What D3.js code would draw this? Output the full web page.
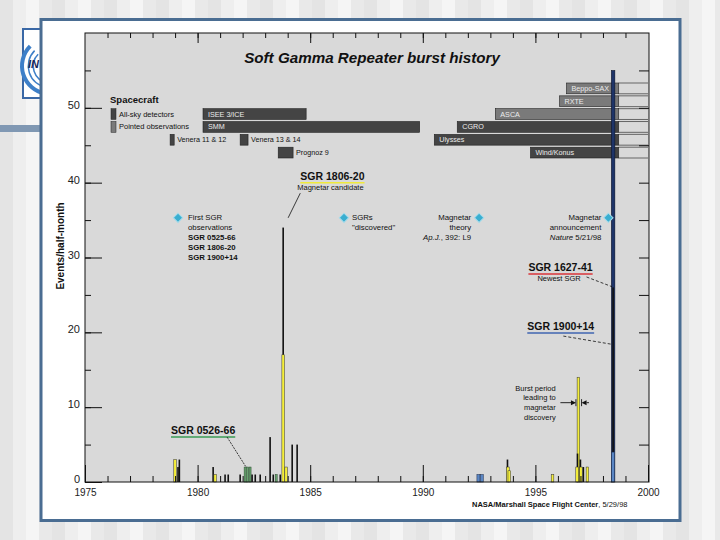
<!DOCTYPE html>
<html>
<head>
<meta charset="utf-8">
<script src="https://cdn.jsdelivr.net/npm/d3@7"></script>
<style>
  html, body { margin: 0; padding: 0; background: #fff; }
  svg { display: block; }
  text { font-family: "Liberation Sans", Arial, sans-serif; }
</style>
</head>
<body>
<svg id="chart" width="720" height="540"></svg>
<script>
// ---- data ----
const xTickYears = [1975, 1980, 1985, 1990, 1995, 2000];
const yTickValues = [0, 10, 20, 30, 40, 50];

// spacecraft coverage (years), row in the spacecraft block, detector type
const craftNames  = ['ISEE 3/ICE', 'SMM', 'Venera 11 & 12', 'Venera 13 & 14', 'Prognoz 9', 'Ulysses', 'CGRO', 'ASCA', 'Wind/Konus', 'RXTE', 'Beppo-SAX'];
const craftStart  = [1980.24, 1980.24, 1978.78, 1981.89, 1983.58, 1990.51, 1991.53, 1993.22, 1994.78, 1996.07, 1996.38];
const craftEnd    = [1984.82, 1989.86, 1978.96, 1982.24, 1984.24, 1998.7, 1998.7, 1998.7, 1998.7, 1998.7, 1998.7];
const craftRow    = [2, 3, 4, 4, 5, 4, 3, 2, 5, 1, 0];
const craftType   = ['all-sky', 'all-sky', 'all-sky', 'all-sky', 'all-sky', 'all-sky', 'all-sky', 'pointed', 'all-sky', 'pointed', 'pointed'];
const craftOngoing = [false, false, false, false, false, true, true, true, true, true, true];

// bursts per half-month
const burstYear  = [1979.0, 1979.13, 1979.19, 1980.69, 1980.78, 1981.22, 1981.36, 1981.89,
                    1982.11, 1982.22, 1982.33, 1982.42, 1982.56, 1982.78, 1983.22, 1983.36,
                    1983.49, 1983.67, 1983.8, 1983.8, 1983.93, 1984.2, 1984.42,
                    1992.47, 1992.62, 1993.76, 1993.78, 1993.84, 1995.76,
                    1996.85, 1996.87, 1996.91, 1997.0, 1997.02, 1997.13, 1997.31,
                    1998.45, 1998.45, 1998.45];
const burstCount = [3, 2, 3, 2, 1, 1, 1, 1,
                    2, 2, 2, 1, 1, 1, 6, 1,
                    1, 1, 34, 17, 2, 5, 5,
                    1, 1, 3, 2, 1.5, 1,
                    2, 3.8, 14, 3, 2, 2, 2,
                    55, 26, 4];
const burstSource = ['SGR 1806-20', 'other', 'other', 'other', 'SGR 1806-20', 'other', 'other', 'other',
                     'SGR 0526-66', 'SGR 0526-66', 'SGR 0526-66', 'other', 'other', 'other', 'other', 'other',
                     'SGR 0526-66', 'other', 'other', 'SGR 1806-20', 'SGR 1806-20', 'other', 'other',
                     'SGR 1900+14', 'SGR 1900+14', 'other', 'SGR 1806-20', 'SGR 1806-20', 'SGR 1806-20',
                     'SGR 1806-20', 'other', 'SGR 1806-20', 'other', 'SGR 1806-20', 'other', 'SGR 1806-20',
                     'SGR 1627-41', 'other', 'SGR 1900+14'];

// milestones
const eventYear  = [1979.13, 1986.5, 1992.5, 1998.24];
const eventLevel = [35.3, 35.3, 35.3, 35.3];

// ---- layout ----
const W = 720, H = 540;
const plot = {left: 85, right: 648, top: 33, bottom: 482};
const font = '"Liberation Sans", Arial, sans-serif';

const sourceStyle = {
  'other':       {fill: '#111111', w: 1.6, stroke: 'none'},
  'SGR 0526-66': {fill: '#67a36f', w: 2,   stroke: '#2a4a2e'},
  'SGR 1806-20': {fill: '#f4ee3b', w: 2.6, stroke: '#333'},
  'SGR 1900+14': {fill: '#5a86c4', w: 3,   stroke: '#1a2a4a'},
  'SGR 1627-41': {fill: '#1e3468', w: 3.6, stroke: '#0a0f1f'}
};

const svg = d3.select('#chart');

// slide background stripes
const stripes = d3.range(0, W, 13);
svg.append('g').selectAll('rect').data(stripes).enter().append('rect')
  .attr('x', d => d).attr('y', 0).attr('width', 13).attr('height', H)
  .attr('fill', (d, i) => ['#e4e4e4', '#eeeeee', '#f5f5f5', '#e9e9e9'][i % 4]);

svg.append('rect').attr('x', 0).attr('y', 125).attr('width', 44).attr('height', 7).attr('fill', '#8098b3');

// logo (mostly hidden behind panel)
const logo = svg.append('g');
logo.append('rect').attr('x', 23).attr('y', 29).attr('width', 30).attr('height', 69)
  .attr('fill', '#fff').attr('stroke', '#3a68a6').attr('stroke-width', 2);
[16, 21, 26].forEach((r, i) => {
  logo.append('path')
    .attr('d', d3.arc()({innerRadius: r, outerRadius: r + (i === 2 ? 4 : 1.5), startAngle: -Math.PI * 0.95, endAngle: -Math.PI * 0.25}))
    .attr('transform', 'translate(50,66)')
    .attr('fill', '#3d7fc8');
});
logo.append('text').attr('x', 28).attr('y', 68).attr('font-size', 11).attr('font-weight', 'bold')
  .attr('font-style', 'italic').attr('fill', '#18285a').text('IN');

// white panel
svg.append('rect').attr('x', 41).attr('y', 19.5).attr('width', 639).attr('height', 501)
  .attr('fill', '#fff').attr('stroke', '#4a6d92').attr('stroke-width', 3);

// ---- chart ----
const x = d3.scaleLinear().domain([1975, 2000]).range([plot.left, plot.right]);
const y = d3.scaleLinear().domain([0, 60]).range([plot.bottom, plot.top]);
const row = d3.scaleBand().domain(d3.range(6)).range([83, 158]).paddingInner(0.16);

const g = svg.append('g');
g.append('rect').attr('x', plot.left).attr('y', plot.top)
  .attr('width', plot.right - plot.left + 1).attr('height', plot.bottom - plot.top)
  .attr('fill', '#d9d9d9');

// title
g.append('text').attr('x', 372).attr('y', 63).attr('text-anchor', 'middle')
  .attr('font-size', 15.2).attr('font-weight', 'bold').attr('font-style', 'italic')
  .attr('fill', '#111').text('Soft Gamma Repeater burst history');

// spacecraft block
g.append('text').attr('x', 110).attr('y', 103).attr('font-size', 9.5).attr('font-weight', 'bold')
  .attr('fill', '#111').text('Spacecraft');
const typeFill = {'all-sky': '#444444', 'pointed': '#7a7a7a'};
[['all-sky', 'All-sky detectors', 2], ['pointed', 'Pointed observations', 3]].forEach(d => {
  g.append('rect').attr('x', 111).attr('y', row(d[2])).attr('width', 5).attr('height', row.bandwidth())
    .attr('fill', typeFill[d[0]]).attr('stroke', '#222').attr('stroke-width', 0.5);
  g.append('text').attr('x', 119).attr('y', row(d[2]) + row.bandwidth() / 2 + 2.5)
    .attr('font-size', 7.5).attr('fill', '#111').text(d[1]);
});

const crafts = craftNames.map((n, i) => ({name: n, start: craftStart[i], end: craftEnd[i], row: craftRow[i], type: craftType[i], ongoing: craftOngoing[i]}));
const cg = g.append('g');
crafts.filter(d => d.ongoing).forEach(d => {
  [row(d.row), row(d.row) + row.bandwidth()].forEach(yy => {
    cg.append('line').attr('x1', x(d.end)).attr('x2', plot.right).attr('y1', yy).attr('y2', yy)
      .attr('stroke', '#333').attr('stroke-width', 0.7);
  });
});
cg.selectAll('rect.craft').data(crafts).enter().append('rect')
  .attr('x', d => x(d.start)).attr('y', d => row(d.row))
  .attr('width', d => x(d.end) - x(d.start)).attr('height', row.bandwidth())
  .attr('fill', d => typeFill[d.type]).attr('stroke', '#222').attr('stroke-width', 0.6);
cg.selectAll('text.craft').data(crafts).enter().append('text')
  .attr('x', d => (x(d.end) - x(d.start) > 20) ? x(d.start) + 5 : x(d.end) + 3)
  .attr('y', d => row(d.row) + row.bandwidth() / 2 + 2.5)
  .attr('font-size', 7.2)
  .attr('fill', d => (x(d.end) - x(d.start) > 20) ? '#ececec' : '#111')
  .text(d => d.name);

// bursts
const bursts = burstYear.map((yr, i) => ({year: yr, count: burstCount[i], src: burstSource[i]}))
  .sort((a, b) => b.count - a.count);
g.append('g').selectAll('rect').data(bursts).enter().append('rect')
  .attr('x', d => x(d.year) - sourceStyle[d.src].w / 2)
  .attr('y', d => y(d.count))
  .attr('width', d => sourceStyle[d.src].w)
  .attr('height', d => y(0) - y(d.count))
  .attr('fill', d => sourceStyle[d.src].fill)
  .attr('stroke', d => sourceStyle[d.src].stroke)
  .attr('stroke-width', 0.5);

// axes
function clean(sel) { sel.select('.domain').remove(); sel.selectAll('line').attr('stroke', '#111'); }
const allYears = d3.range(1976, 2000);
const fiveStep = d3.range(5, 60, 5);

g.append('g').attr('transform', `translate(0,${plot.bottom})`)
  .call(d3.axisBottom(x).tickValues(allYears).tickSize(-6).tickFormat('')).call(clean);
g.append('g').attr('transform', `translate(0,${plot.bottom})`)
  .call(d3.axisBottom(x).tickValues(xTickYears).tickSize(-17).tickPadding(7).tickFormat(d3.format('d')))
  .call(clean)
  .call(s => s.selectAll('text').attr('font-size', 10).attr('font-family', font).attr('fill', '#222'));
g.append('g').attr('transform', `translate(0,${plot.top})`)
  .call(d3.axisTop(x).tickValues(allYears).tickSize(-5).tickFormat('')).call(clean);
g.append('g').attr('transform', `translate(0,${plot.top})`)
  .call(d3.axisTop(x).tickValues(xTickYears.slice(1, -1)).tickSize(-10).tickFormat('')).call(clean);

g.append('g').attr('transform', `translate(${plot.left},0)`)
  .call(d3.axisLeft(y).tickValues(fiveStep).tickSize(-6).tickFormat('')).call(clean);
g.append('g').attr('transform', `translate(${plot.left},0)`)
  .call(d3.axisLeft(y).tickValues(yTickValues).tickSize(-17).tickPadding(5).tickFormat(d3.format('d')))
  .call(clean)
  .call(s => s.selectAll('text').attr('font-size', 11).attr('font-family', font).attr('fill', '#222').attr('y', -3));
g.append('g').attr('transform', `translate(${plot.right + 1},0)`)
  .call(d3.axisRight(y).tickValues(fiveStep).tickSize(-10).tickFormat('')).call(clean);

g.append('rect').attr('x', plot.left).attr('y', plot.top)
  .attr('width', plot.right - plot.left + 1).attr('height', plot.bottom - plot.top)
  .attr('fill', 'none').attr('stroke', '#111').attr('stroke-width', 1);

g.append('text').attr('transform', `translate(64,${246}) rotate(-90)`).attr('text-anchor', 'middle')
  .attr('font-size', 10).attr('font-weight', 'bold').attr('fill', '#111').text('Events/half-month');

// milestone markers
g.append('g').selectAll('path').data(eventYear).enter().append('path')
  .attr('d', d3.symbol().type(d3.symbolSquare).size(44))
  .attr('transform', (d, i) => `translate(${x(d)},${y(eventLevel[i])}) rotate(45)`)
  .attr('fill', '#3aaed0').attr('stroke', '#a8dceb').attr('stroke-width', 1);

const eventText = [
  {anchor: 'start', dx: 10, lines: [[['First SGR', 'n']], [['observations', 'n']], [['SGR 0525-66', 'b']], [['SGR 1806-20', 'b']], [['SGR 1900+14', 'b']]]},
  {anchor: 'start', dx: 8, lines: [[['SGRs', 'n']], [['"discovered"', 'n']]]},
  {anchor: 'end', dx: -8, lines: [[['Magnetar', 'n']], [['theory', 'n']], [['Ap.J.', 'i'], [', 392: L9', 'n']]]},
  {anchor: 'end', dx: -7, lines: [[['Magnetar', 'n']], [['announcement', 'n']], [['Nature', 'i'], [' 5/21/98', 'n']]]}
];
eventText.forEach((e, i) => {
  e.lines.forEach((ln, j) => {
    const t = g.append('text').attr('x', x(eventYear[i]) + e.dx).attr('y', y(eventLevel[i]) + 2 + j * 10)
      .attr('text-anchor', e.anchor).attr('font-size', 7.8).attr('fill', '#111');
    ln.forEach(p => t.append('tspan').text(p[0])
      .attr('font-weight', p[1] === 'b' ? 'bold' : 'normal')
      .attr('font-style', p[1] === 'i' ? 'italic' : 'normal'));
  });
});

// source labels
const srcLabels = [
  {name: 'SGR 1806-20', sub: 'Magnetar candidate', at: [1984.56, 40.4], color: '#f0ea3a', line: [[1984.56, 38.6], [1984.02, 35.3]], dash: null, subDx: -3},
  {name: 'SGR 1627-41', sub: 'Newest SGR', at: [1994.69, 28.2], color: '#d9343a', line: [[1997.27, 27.4], [1998.4, 26.1]], dash: '3,2', subDx: 9},
  {name: 'SGR 1900+14', sub: null, at: [1994.64, 20.3], color: '#3f64b0', line: [[1996.24, 19.5], [1998.4, 18.4]], dash: '3,2'},
  {name: 'SGR 0526-66', sub: null, at: [1978.82, 6.4], color: '#3a9b55', line: [[1981.31, 6.0], [1982.13, 2.1]], dash: '2,1'}
];
srcLabels.forEach(s => {
  const tx = x(s.at[0]), ty = y(s.at[1]);
  const t = g.append('text').attr('x', tx).attr('y', ty).attr('font-size', 10.5).attr('font-weight', 'bold')
    .attr('fill', '#111').text(s.name);
  const w = t.node().getComputedTextLength();
  g.append('line').attr('x1', tx).attr('x2', tx + w).attr('y1', ty + 3).attr('y2', ty + 3)
    .attr('stroke', s.color).attr('stroke-width', 1.5);
  if (s.sub) {
    g.append('text').attr('x', tx + s.subDx).attr('y', ty + 10).attr('font-size', 7.5).attr('fill', '#111').text(s.sub);
  }
  g.append('line').attr('x1', x(s.line[0][0])).attr('y1', y(s.line[0][1]))
    .attr('x2', x(s.line[1][0])).attr('y2', y(s.line[1][1]))
    .attr('stroke', '#111').attr('stroke-width', 0.8).attr('stroke-dasharray', s.dash);
});

// burst period note
const noteLines = ['Burst period', 'leading to', 'magnetar', 'discovery'];
noteLines.forEach((l, i) => {
  g.append('text').attr('x', x(1995.9)).attr('y', y(12.2) + i * 9.7).attr('text-anchor', 'end')
    .attr('font-size', 7.5).attr('fill', '#111').text(l);
});
const ay = y(10.6);
const arrowG = g.append('g').attr('stroke', '#111').attr('fill', '#111');
arrowG.append('line').attr('x1', x(1996.11)).attr('x2', x(1996.73)).attr('y1', ay).attr('y2', ay).attr('stroke-width', 0.9);
arrowG.append('path').attr('d', `M${x(1996.8)},${ay} l-5,-2.5 l0,5 z`).attr('stroke', 'none');
arrowG.append('line').attr('x1', x(1996.8)).attr('x2', x(1996.8)).attr('y1', ay - 3.5).attr('y2', ay + 3.5).attr('stroke-width', 0.9);
arrowG.append('line').attr('x1', x(1997.05)).attr('x2', x(1997.05)).attr('y1', ay - 3.5).attr('y2', ay + 3.5).attr('stroke-width', 0.9);
arrowG.append('path').attr('d', `M${x(1997.05)},${ay} l5,-2.5 l0,5 z`).attr('stroke', 'none');
arrowG.append('line').attr('x1', x(1997.05) + 5).attr('x2', x(1997.38)).attr('y1', ay).attr('y2', ay).attr('stroke-width', 0.9);

// credit
const credit = g.append('text').attr('x', 472).attr('y', 507).attr('font-size', 7.5).attr('fill', '#111');
credit.append('tspan').attr('font-weight', 'bold').text('NASA/Marshall Space Flight Center');
credit.append('tspan').text(', 5/29/98');
</script>
</body>
</html>
